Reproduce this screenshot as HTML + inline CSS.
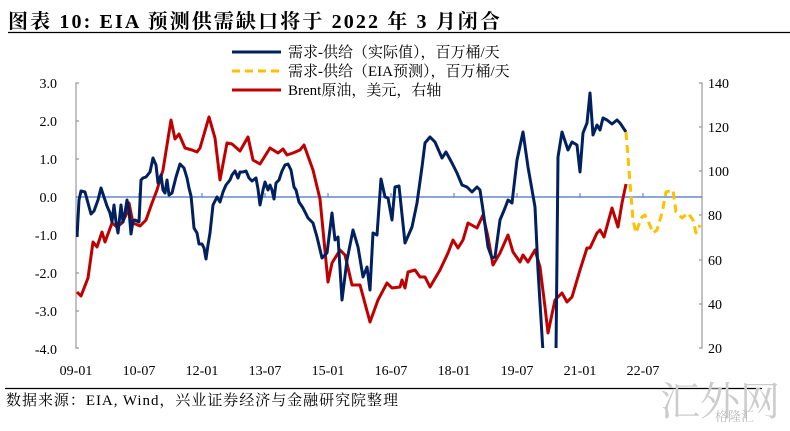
<!DOCTYPE html>
<html><head><meta charset="utf-8"><style>
body{margin:0;background:#fff;width:790px;height:431px;overflow:hidden}
svg{display:block}
text{font-family:"Liberation Serif","Noto Serif CJK SC",serif}
</style></head><body>
<svg width="790" height="431" viewBox="0 0 790 431">
<text x="8" y="28" font-size="20" font-weight="bold" fill="#000" textLength="492" lengthAdjust="spacing">图表 10:  EIA 预测供需缺口将于 2022 年 3 月闭合</text>
<line x1="8" y1="32.5" x2="790" y2="32.5" stroke="#000" stroke-width="1.2"/>
<g stroke="#999" stroke-width="1.2" fill="none">
<path d="M79,83 H76 V348 H79"/>
<path d="M76,121 h3 M76,159 h3 M76,235 h3 M76,273 h3 M76,311 h3"/>
<path d="M699,83 H702 V348 H699"/>
<path d="M702,127 h-3 M702,171 h-3 M702,215 h-3 M702,260 h-3 M702,304 h-3"/>
</g>
<line x1="76" y1="197" x2="702" y2="197" stroke="#4472C4" stroke-width="1.2"/>
<g stroke="#4472C4" stroke-width="1"><path d="M139,197v-4M202,197v-4M265,197v-4M328,197v-4M391,197v-4M454,197v-4M517,197v-4M580,197v-4M643,197v-4"/></g>
<g font-size="14" fill="#000" text-anchor="end">
<text x="57" y="88">3.0</text><text x="57" y="126">2.0</text><text x="57" y="164">1.0</text><text x="57" y="202">0.0</text><text x="57" y="240">-1.0</text><text x="57" y="278">-2.0</text><text x="57" y="316">-3.0</text><text x="57" y="354">-4.0</text>
</g>
<g font-size="14" fill="#000">
<text x="708" y="88">140</text><text x="708" y="132">120</text><text x="708" y="176">100</text><text x="708" y="220">80</text><text x="708" y="265">60</text><text x="708" y="309">40</text><text x="708" y="353">20</text>
</g>
<g font-size="14" fill="#000" text-anchor="middle">
<text x="76" y="375">09-01</text><text x="139" y="375">10-07</text><text x="202" y="375">12-01</text><text x="265" y="375">13-07</text><text x="328" y="375">15-01</text><text x="391" y="375">16-07</text><text x="454" y="375">18-01</text><text x="517" y="375">19-07</text><text x="580" y="375">21-01</text><text x="643" y="375">22-07</text>
</g>
<line x1="232" y1="52" x2="281" y2="52" stroke="#002060" stroke-width="3"/>
<line x1="232" y1="71" x2="281" y2="71" stroke="#FFC000" stroke-width="3" stroke-dasharray="8,5"/>
<line x1="232" y1="90" x2="281" y2="90" stroke="#C00000" stroke-width="3"/>
<g font-size="15" fill="#000">
<text x="288" y="57">需求-供给（实际值），百万桶/天</text>
<text x="288" y="76">需求-供给（EIA预测），百万桶/天</text>
<text x="288" y="95">Brent原油，美元，右轴</text>
</g>
<defs><clipPath id="c"><rect x="76" y="80" width="626" height="268"/></clipPath></defs>
<g clip-path="url(#c)" fill="none" stroke-width="3" stroke-linejoin="round">
<polyline stroke="#C00000" points="77,292 81,296 88,278 93,242 97,247 102,232 105,242 112,223 117,227 122,223 127,213 129,203 133,223 140,226 146,220 152,203 157,190 163,170 171,120 175,139 179,134 185,148 192,150 197,152 200,148 209,117 215,138 220,180 227,143 232,144 240,151 248,137 253,160 260,164 270,148 278,153 283,149 287,155 293,153 300,150 304,145 313,170 320,199 328,282 332,263 340,250 345,255 352,285 360,285 370,322 378,300 387,283 392,288 400,287 402,280 405,288 408,272 415,270 420,277 425,277 430,287 440,270 448,253 453,240 458,248 463,240 468,223 477,228 483,215 488,237 493,265 500,253 508,235 513,252 520,262 523,255 528,262 535,250 540,267 545,307 548,333 555,300 562,293 567,302 572,297 580,270 587,248 590,248 597,233 600,230 604,237 612,208 618,227 622,203 626,184"/>
<polyline stroke="#002060" points="77,237 79,200 81,191 85,192 88,203 91,214 94,211 98,200 101,188 104,197 107,206 110,213 112,222 114,205 116,222 118,233 121,205 123,222 125,213 127,200 129,210 131,234 133,221 135,220 139,222 141,180 143,178 146,177 150,172 153,158 156,165 158,183 161,175 163,190 165,193 167,180 169,195 172,193 176,177 180,164 184,168 187,178 189,188 191,196 192,206 194,228 197,233 199,244 202,244 204,248 206,259 208,245 210,233 213,205 217,197 220,202 223,192 226,185 230,180 232,175 235,171 238,178 240,172 243,172 246,171 249,178 252,181 256,178 258,189 260,205 263,190 265,182 268,190 270,185 272,190 274,199 276,183 279,180 282,171 285,165 288,164 291,170 294,187 296,190 299,202 303,208 308,218 313,223 317,237 322,258 327,253 332,213 335,240 338,237 342,300 347,260 353,230 358,247 363,277 367,267 370,290 373,233 377,235 381,179 385,197 388,198 392,220 395,187 399,186 405,243 412,227 417,203 422,167 425,143 430,137 435,142 442,158 446,152 452,163 457,173 462,185 467,187 472,192 477,187 480,190 483,210 488,247 492,258 495,257 500,220 505,208 508,200 512,203 517,160 523,132 528,167 535,207 538,270 543,352"/>
<polyline stroke="#002060" points="556,352 558,157 562,132 568,150 572,142 577,145 580,172 583,133 587,123 590,93 593,135 597,125 600,130 603,118 607,120 612,124 617,120 620,123 626,132"/>
<polyline stroke="#FFC000" stroke-dasharray="8,5" points="626,132 630,183 633,220 636,233 638,227 642,217 645,215 649,223 653,233 657,230 662,213 666,192 673,190 676,212 682,218 688,213 693,220 696,233 700,225"/>
</g>
<line x1="5" y1="388.5" x2="762" y2="388.5" stroke="#000" stroke-width="1.2"/>
<text x="6" y="405" font-size="15" fill="#000" textLength="392" lengthAdjust="spacing">数据来源：EIA, Wind，兴业证券经济与金融研究院整理</text>
<text x="660" y="415" font-size="40" fill="#ccc">汇外网</text>
<text x="715" y="421" font-size="13" fill="#bbb">格隆汇</text>
</svg>
</body></html>
